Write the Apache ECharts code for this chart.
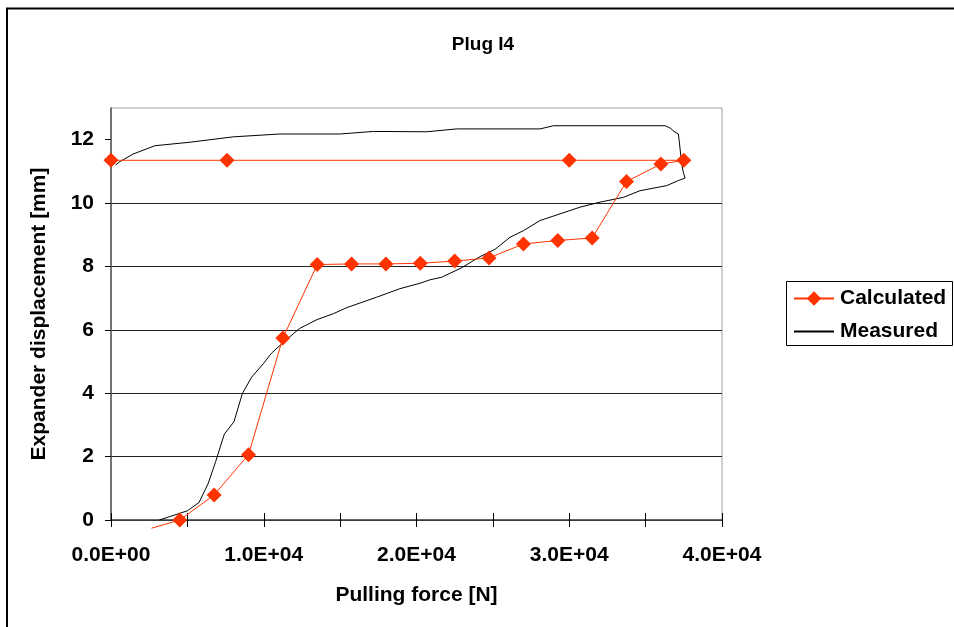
<!DOCTYPE html>
<html>
<head>
<meta charset="utf-8">
<script src="https://cdn.jsdelivr.net/npm/echarts@6/dist/echarts.min.js"></script>
<style>
html,body{margin:0;padding:0;background:#fff;}
#chart{width:954px;height:627px;}
</style>
</head>
<body>
<div id="chart"></div>
<script>
// ---- Data ----
const titleText = 'Plug I4';
const xTitle = 'Pulling force [N]';
const yTitle = 'Expander displacement [mm]';
const seriesNames = ['Calculated', 'Measured'];
const xTickLabels = [0, 10000, 20000, 30000, 40000];
const yTickLabels = [0, 2, 4, 6, 8, 10, 12];

const calcX = [2650, 4500, 6750, 9000, 11250, 13500, 15750, 18000, 20250, 22500, 24750, 27000, 29250, 31500, 33750, 36000, 37500, 30000, 7600, 0];
const calcY = [-0.26, 0, 0.79, 2.06, 5.74, 8.06, 8.08, 8.08, 8.10, 8.17, 8.27, 8.71, 8.82, 8.90, 10.68, 11.23, 11.35, 11.35, 11.35, 11.35];

const measX = [3160, 5000, 5760, 6370, 6850, 7420, 8050, 8600, 9210, 9970, 10520, 11180, 12330, 13470, 14560, 15430, 17390, 18920, 20230, 20890, 21650, 22960, 24160, 25140, 26120, 27000, 28090, 29400, 30700, 32020, 33540, 34630, 36380, 37140, 37580, 37470, 37360, 37210, 37140, 36860, 36600, 36270, 28960, 28090, 22630, 20670, 17180, 14990, 11060, 8010, 5170, 2880, 1460, 590, 300];
const measY = [0, 0.29, 0.55, 1.16, 1.84, 2.71, 3.10, 3.99, 4.51, 4.93, 5.27, 5.56, 6.04, 6.32, 6.51, 6.70, 7.03, 7.30, 7.47, 7.58, 7.66, 7.96, 8.31, 8.54, 8.92, 9.13, 9.45, 9.66, 9.87, 10.03, 10.18, 10.39, 10.55, 10.71, 10.79, 10.97, 11.23, 11.92, 12.18, 12.26, 12.37, 12.44, 12.44, 12.34, 12.34, 12.25, 12.26, 12.18, 12.18, 12.09, 11.92, 11.81, 11.55, 11.31, 11.2];

// ---- Chart ----
const FONT = '"Liberation Sans", Arial, sans-serif';
const RED = '#ff3300';

function sci(v) {
  let s = Number(v).toExponential(1).toUpperCase(); // e.g. 1.0E+4
  return s.replace(/E([+-])(\d)$/, 'E$10$2');
}

const calcData = calcX.map((x, i) => ({
  value: [x, calcY[i]],
  symbol: calcY[i] < 0 ? 'none' : 'diamond'
}));
const measData = measX.map((x, i) => [x, measY[i]]);

const chart = echarts.init(document.getElementById('chart'), null, {renderer: 'canvas'});
const common = {fontFamily: FONT, fontWeight: 'bold', color: '#000', fontSize: 21};

chart.setOption({
  animation: false,
  backgroundColor: '#fff',
  textStyle: {fontFamily: FONT},
  title: {
    text: titleText,
    left: 478, top: 30, textAlign: 'center',
    textStyle: Object.assign({}, common, {fontSize: 19})
  },
  grid: {
    left: 111, right: 232, top: 108, bottom: 107,
    show: true, borderColor: '#a0a0a0', borderWidth: 1, backgroundColor: 'transparent'
  },
  legend: {
    data: [
      {name: seriesNames[0]},
      {name: seriesNames[1], itemStyle: {color: 'rgba(0,0,0,0)', borderWidth: 0, opacity: 0}}
    ],
    orient: 'vertical',
    left: 793, top: 288, padding: 0,
    itemWidth: 40, itemHeight: 18, itemGap: 12,
    textStyle: Object.assign({}, common, {fontSize: 21, padding: [0, 0, 0, 1]})
  },
  xAxis: [{
    type: 'value', min: 0, max: 40000, interval: 5000,
    name: xTitle, nameLocation: 'middle', nameGap: 65,
    nameTextStyle: common,
    axisLine: {show: true, onZero: false, lineStyle: {color: '#444', width: 1.5}},
    axisTick: {show: true, length: 7, lineStyle: {color: '#000'}},
    axisLabel: {
      show: true, margin: 25, ...common,
      customValues: xTickLabels,
      formatter: v => sci(v)
    },
    splitLine: {show: false}
  }, {
    type: 'value', min: 0, max: 40000, interval: 5000, position: 'bottom',
    axisLine: {show: false},
    axisTick: {show: true, inside: true, length: 7, lineStyle: {color: '#000'}},
    axisLabel: {show: false},
    splitLine: {show: false}
  }],
  yAxis: {
    type: 'value', min: 0, max: 13, interval: 2,
    name: yTitle, nameLocation: 'middle', nameGap: 61,
    nameTextStyle: common,
    axisLine: {show: true, lineStyle: {color: '#555', width: 1.5}},
    axisTick: {show: true, length: 6, customValues: yTickLabels, lineStyle: {color: '#000'}},
    axisLabel: {margin: 17, ...common, customValues: yTickLabels},
    splitLine: {show: true, showMaxLine: false, lineStyle: {color: '#222', width: 1.2}}
  },
  graphic: [
    {type: 'rect', shape: {x: 7, y: 8.5, width: 1000, height: 700}, style: {fill: 'none', stroke: '#000', lineWidth: 2}, silent: true, z: -1},
    {type: 'rect', shape: {x: 786.5, y: 281.5, width: 166, height: 64}, style: {fill: 'none', stroke: '#000', lineWidth: 1}, silent: true}
  ],
  series: [{
    name: seriesNames[0], type: 'line', xAxisIndex: 0,
    data: calcData, clip: false,
    symbol: 'diamond', symbolSize: 15,
    itemStyle: {color: RED},
    lineStyle: {color: RED, width: 1},
    z: 3
  }, {
    name: seriesNames[1], type: 'line', xAxisIndex: 0,
    data: measData,
    symbol: 'none', showSymbol: false,
    itemStyle: {color: '#000'},
    lineStyle: {color: '#000', width: 1},
    z: 2
  }]
});
</script>
</body>
</html>
